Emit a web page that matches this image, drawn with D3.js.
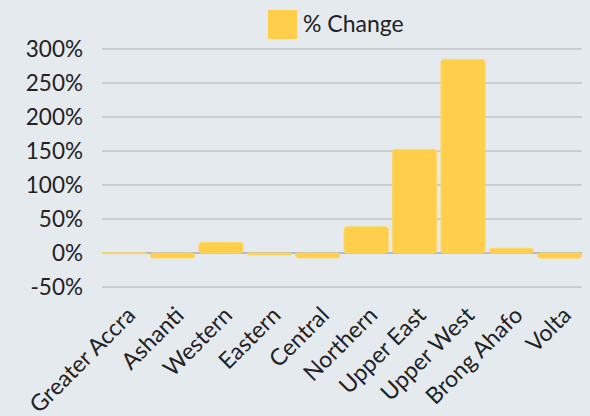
<!DOCTYPE html>
<html>
<head>
<meta charset="utf-8">
<script src="https://cdn.jsdelivr.net/npm/d3@7"></script>
<style>
  html, body { margin: 0; padding: 0; background: #e5eaef; }
  svg { display: block; font-family: "Lato", "Noto Sans", sans-serif; }
</style>
</head>
<body>
<div id="chart"></div>
<script>
const regions = ["Greater Accra", "Ashanti", "Western", "Eastern", "Central",
                 "Northern", "Upper East", "Upper West", "Brong Ahafo", "Volta"];
const pctChange = [0.5, -7.4, 15.8, -3, -7.2, 38.7, 152.5, 284.8, 6.9, -7.6];
const yTicks = [-50, 0, 50, 100, 150, 200, 250, 300];
const seriesName = "% Change";

const width = 590, height = 416;
const margin = { top: 49, right: 8, bottom: 129, left: 102 };
const chartWidth = width - margin.left - margin.right;
const chartHeight = height - margin.top - margin.bottom;
const barColor = "#ffcf4b";

const svg = d3.select("#chart").append("svg")
    .attr("width", width)
    .attr("height", height);

svg.append("rect")
    .attr("width", width)
    .attr("height", height)
    .attr("fill", "#e5eaef");

const g = svg.append("g")
    .attr("transform", `translate(${margin.left},${margin.top})`);

const x = d3.scaleBand()
    .domain(regions)
    .range([0, chartWidth])
    .paddingInner(0.085)
    .paddingOuter(0);

const y = d3.scaleLinear()
    .domain([-50, 300])
    .range([chartHeight, 0]);

// gridlines
g.selectAll(".grid")
    .data(yTicks)
    .enter()
    .append("line")
    .attr("class", "grid")
    .attr("x1", 0)
    .attr("x2", chartWidth)
    .attr("y1", d => y(d))
    .attr("y2", d => y(d))
    .attr("stroke", d => d === 0 ? "#a9adb2" : "#c0c3c7")
    .attr("stroke-width", 1.5);

// y axis labels
const yAxis = d3.axisLeft(y)
    .tickValues(yTicks)
    .tickFormat(d => d + "%")
    .tickSize(0)
    .tickPadding(19);
const yAxisG = g.append("g").call(yAxis);
yAxisG.select(".domain").remove();
yAxisG.selectAll("text")
    .attr("font-size", 22.5)
    .attr("font-family", "Lato, 'Noto Sans', sans-serif")
    .attr("fill", "#222");

// bars
const radius = 3;
g.selectAll(".bar")
    .data(regions.map((r, i) => ({ region: r, value: pctChange[i] })))
    .enter()
    .append("rect")
    .attr("class", "bar")
    .attr("x", d => x(d.region))
    .attr("y", d => Math.min(y(d.value), y(0)))
    .attr("width", x.bandwidth())
    .attr("height", d => Math.max(1, Math.abs(y(d.value) - y(0))))
    .attr("rx", d => Math.min(radius, Math.abs(y(d.value) - y(0)) / 2))
    .attr("fill", barColor)
    .attr("stroke", "#ffd967")
    .attr("stroke-width", 0.8);

// x labels, rotated
const xAxisG = g.append("g")
    .attr("transform", `translate(0,${chartHeight})`);
xAxisG.selectAll("text")
    .data(regions)
    .enter()
    .append("text")
    .attr("transform", d => `translate(${x(d) + x.bandwidth() / 2 + 7},${24}) rotate(-45)`)
    .attr("text-anchor", "end")
    .attr("dy", "0.35em")
    .attr("font-size", 23)
    .attr("fill", "#222")
    .text(d => d);

// legend
const legend = svg.append("g")
    .attr("transform", "translate(268,10)");
legend.append("rect")
    .attr("width", 29)
    .attr("height", 29)
    .attr("fill", barColor);
legend.append("text")
    .attr("x", 35)
    .attr("y", 22)
    .attr("font-size", 23)
    .attr("fill", "#222")
    .text(seriesName);
</script>
</body>
</html>
